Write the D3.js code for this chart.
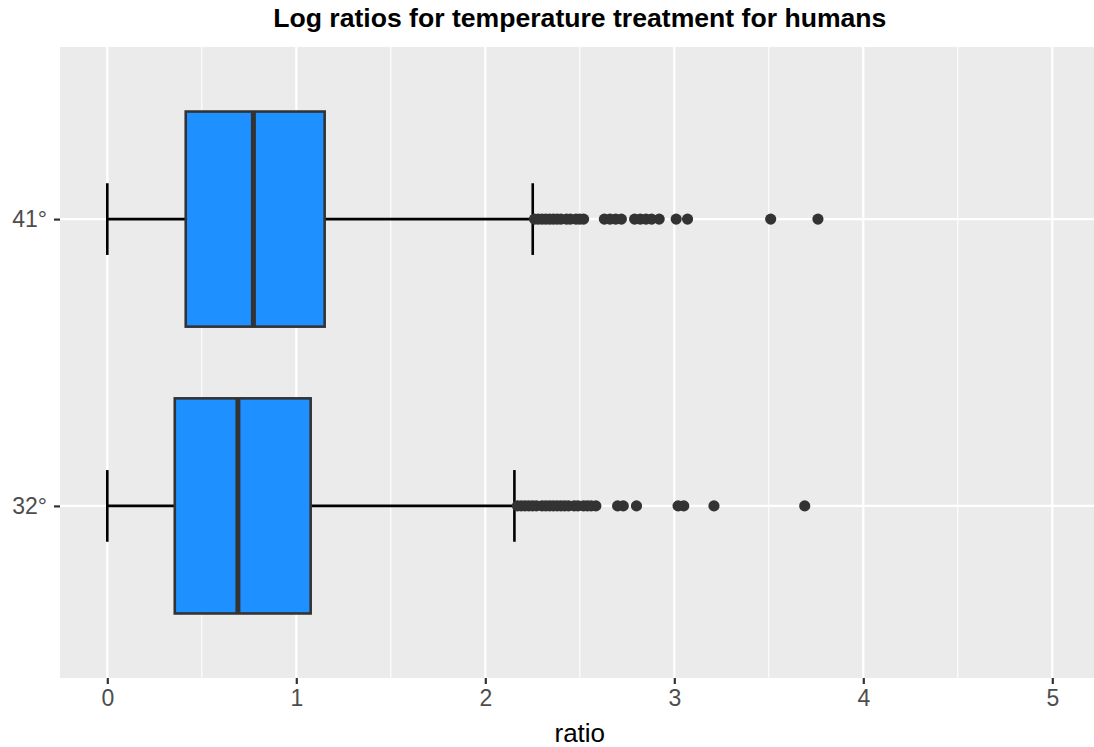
<!DOCTYPE html>
<html>
<head>
<meta charset="utf-8">
<script src="https://cdn.jsdelivr.net/npm/d3@7"></script>
<style>
  body { margin: 0; background: #fff; }
  svg text { font-family: "Liberation Sans", Arial, sans-serif; }
</style>
</head>
<body>
<svg id="chart" width="1094" height="747"></svg>
<script>
// groups, bottom to top
var groups = ["32°", "41°"];

// box statistics (log ratio)
var whiskerLow  = [0, 0];
var q1          = [0.357, 0.415];
var medians     = [0.691, 0.773];
var q3          = [1.076, 1.150];
var whiskerHigh = [2.154, 2.251];

// outliers
var outliers32 = [2.17, 2.19, 2.21, 2.23, 2.25, 2.27, 2.30, 2.32, 2.34, 2.36, 2.38, 2.40,
                  2.42, 2.44, 2.47, 2.49, 2.52, 2.54, 2.56, 2.585, 2.70, 2.73, 2.80,
                  3.02, 3.05, 3.21, 3.69];
var outliers41 = [2.26, 2.28, 2.30, 2.32, 2.34, 2.36, 2.38, 2.40, 2.43, 2.45, 2.48, 2.50,
                  2.52, 2.63, 2.66, 2.69, 2.72, 2.79, 2.82, 2.85, 2.88, 2.92, 3.01, 3.07,
                  3.51, 3.76];
var outliers = [outliers32, outliers41];

var xTicks = [0, 1, 2, 3, 4, 5];
var xMinor = [0.5, 1.5, 2.5, 3.5, 4.5];

var svg = d3.select("#chart");

var panel = {left: 60, top: 47, bottom: 678};

var x = d3.scaleLinear()
    .domain([-0.25, 5.25])
    .range([60.05, 1099.55]);

var y = d3.scaleLinear()
    .domain([0.4, 2.6])
    .range([panel.bottom, panel.top]);

var pw = x.range()[1] - panel.left;
var ph = panel.bottom - panel.top;

// panel background
svg.append("rect")
    .attr("x", panel.left)
    .attr("y", panel.top)
    .attr("width", pw)
    .attr("height", ph)
    .attr("fill", "#EBEBEB");

// grid
svg.selectAll(".minor")
    .data(xMinor)
    .enter()
    .append("line")
    .attr("x1", function(d){return x(d)})
    .attr("x2", function(d){return x(d)})
    .attr("y1", panel.top)
    .attr("y2", panel.bottom)
    .attr("stroke", "#fff")
    .attr("stroke-width", 1.1);

svg.selectAll(".major")
    .data(xTicks)
    .enter()
    .append("line")
    .attr("x1", function(d){return x(d)})
    .attr("x2", function(d){return x(d)})
    .attr("y1", panel.top)
    .attr("y2", panel.bottom)
    .attr("stroke", "#fff")
    .attr("stroke-width", 2.2);

svg.selectAll(".hmajor")
    .data(groups)
    .enter()
    .append("line")
    .attr("x1", panel.left)
    .attr("x2", x.range()[1])
    .attr("y1", function(d, i){return y(i + 1)})
    .attr("y2", function(d, i){return y(i + 1)})
    .attr("stroke", "#fff")
    .attr("stroke-width", 2.2);

var halfBox = 0.375;
var halfCap = 0.125;

var g = svg.selectAll(".box")
    .data(groups)
    .enter()
    .append("g");

// whisker line (errorbar)
g.append("line")
    .attr("x1", function(d, i){return x(whiskerLow[i])})
    .attr("x2", function(d, i){return x(whiskerHigh[i])})
    .attr("y1", function(d, i){return y(i + 1)})
    .attr("y2", function(d, i){return y(i + 1)})
    .attr("stroke", "#000")
    .attr("stroke-width", 2.6);

// caps
[whiskerLow, whiskerHigh].forEach(function(arr) {
    g.append("line")
        .attr("x1", function(d, i){return x(arr[i])})
        .attr("x2", function(d, i){return x(arr[i])})
        .attr("y1", function(d, i){return y(i + 1 + halfCap)})
        .attr("y2", function(d, i){return y(i + 1 - halfCap)})
        .attr("stroke", "#000")
        .attr("stroke-width", 2.6);
});

// box
g.append("rect")
    .attr("x", function(d, i){return x(q1[i])})
    .attr("y", function(d, i){return y(i + 1 + halfBox)})
    .attr("width", function(d, i){return x(q3[i]) - x(q1[i])})
    .attr("height", function(d, i){return y(i + 1 - halfBox) - y(i + 1 + halfBox)})
    .attr("fill", "#1E90FF")
    .attr("stroke", "#333333")
    .attr("stroke-width", 2.6);

// median
g.append("line")
    .attr("x1", function(d, i){return x(medians[i])})
    .attr("x2", function(d, i){return x(medians[i])})
    .attr("y1", function(d, i){return y(i + 1 + halfBox)})
    .attr("y2", function(d, i){return y(i + 1 - halfBox)})
    .attr("stroke", "#333333")
    .attr("stroke-width", 5);

// outliers
g.each(function(d, i) {
    d3.select(this).selectAll("circle")
        .data(outliers[i])
        .enter()
        .append("circle")
        .attr("cx", function(v){return x(v)})
        .attr("cy", y(i + 1))
        .attr("r", 5.6)
        .attr("fill", "#333333");
});

// axes
var xAxis = svg.append("g")
    .attr("transform", "translate(0," + panel.bottom + ")")
    .call(d3.axisBottom(x).tickValues(xTicks).tickSize(6).tickPadding(6).tickFormat(d3.format("d")));

var yAxis = svg.append("g")
    .attr("transform", "translate(" + panel.left + ",0)")
    .call(d3.axisLeft(y).tickValues([1, 2]).tickSize(6).tickPadding(7)
        .tickFormat(function(d){return groups[d - 1]}));

[xAxis, yAxis].forEach(function(ax) {
    ax.select(".domain").remove();
    ax.selectAll(".tick line").attr("stroke", "#333333").attr("stroke-width", 2.2);
    ax.selectAll(".tick text")
        .attr("fill", "#4D4D4D")
        .style("font-size", "23px");
});

// titles
svg.append("text")
    .attr("x", (panel.left + x.range()[1]) / 2)
    .attr("y", 27)
    .attr("text-anchor", "middle")
    .style("font-size", "26.6px")
    .style("font-weight", "bold")
    .text("Log ratios for temperature treatment for humans");

svg.append("text")
    .attr("x", (panel.left + x.range()[1]) / 2)
    .attr("y", 742)
    .attr("text-anchor", "middle")
    .style("font-size", "26px")
    .text("ratio");
</script>
</body>
</html>
